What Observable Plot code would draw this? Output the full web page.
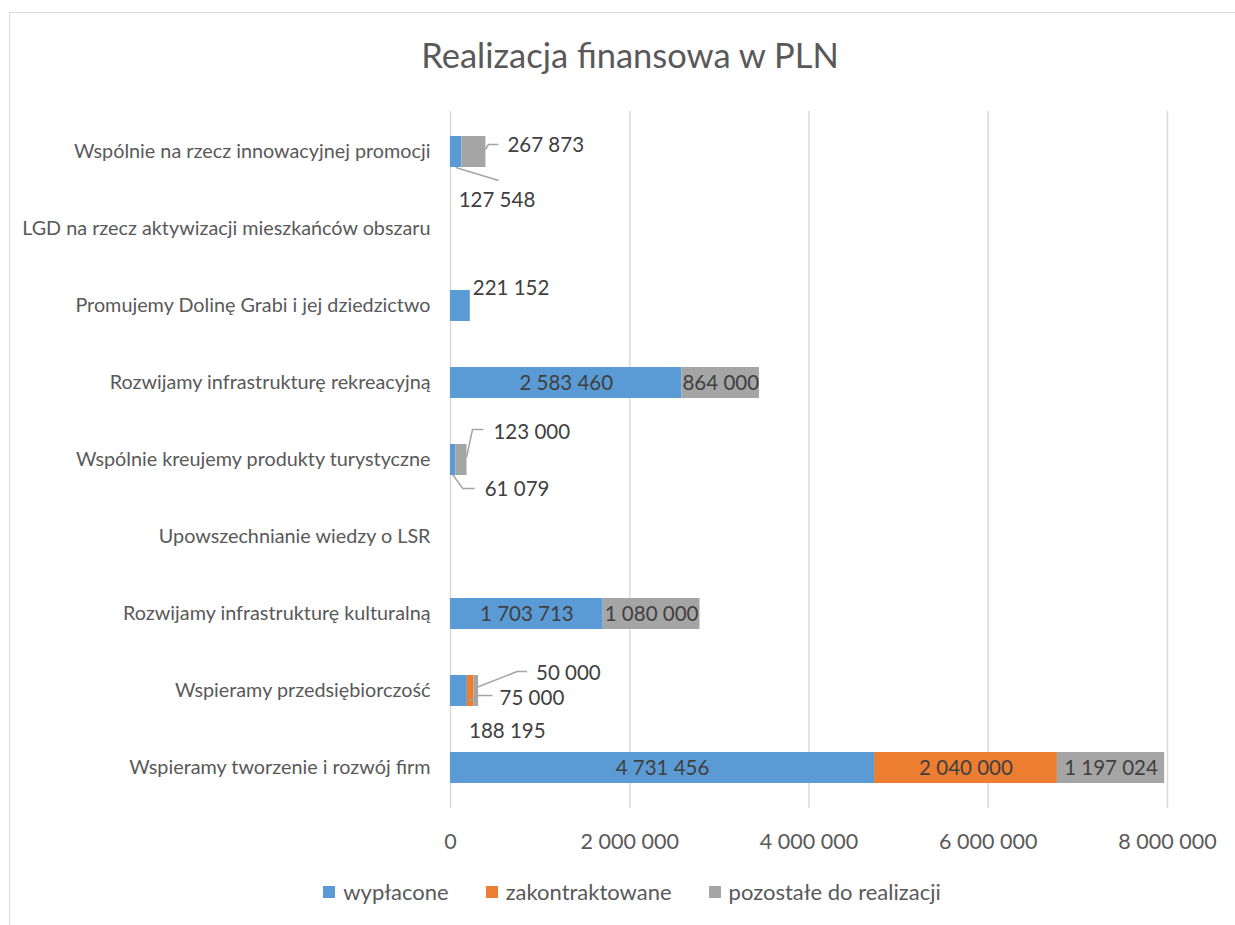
<!DOCTYPE html>
<html>
<head>
<meta charset="utf-8">
<script src="https://cdn.jsdelivr.net/npm/d3@7"></script>
<script src="https://cdn.jsdelivr.net/npm/@observablehq/plot@0.6"></script>
<style>
  body { margin: 0; background: #fff; font-family: Lato, "Open Sans", sans-serif; }
  #wrap { position: relative; width: 1235px; height: 925px; overflow: hidden; }
  #frame { position: absolute; left: 9px; top: 12px; width: 1300px; height: 1000px; border: 1.5px solid #D9D9D9; box-sizing: border-box; }
  #title { position: absolute; left: 0; width: 1260px; top: 34px; text-align: center; font-size: 34.5px; color: #595959; font-weight: 400; }
  #chart { position: absolute; left: 0; top: 0; }
  #legend { position: absolute; left: 0; width: 1264px; top: 878px; display: flex; justify-content: center; gap: 37px; font-size: 22px; color: #595959; }
  #legend span.item { display: flex; align-items: center; }
  #legend span.sw { display: inline-block; width: 12px; height: 12px; margin-right: 8px; }
</style>
</head>
<body>
<div id="wrap">
  <div id="frame"></div>
  <div id="chart"></div>
  <div id="title">Realizacja finansowa w PLN</div>
  <div id="legend"></div>
</div>
<script>
const categories = [
  "Wspólnie na rzecz innowacyjnej promocji",
  "LGD na rzecz aktywizacji mieszkańców obszaru",
  "Promujemy Dolinę Grabi i jej dziedzictwo",
  "Rozwijamy infrastrukturę rekreacyjną",
  "Wspólnie kreujemy produkty turystyczne",
  "Upowszechnianie wiedzy o LSR",
  "Rozwijamy infrastrukturę kulturalną",
  "Wspieramy przedsiębiorczość",
  "Wspieramy tworzenie i rozwój firm"
];
const seriesNames = ["wypłacone", "zakontraktowane", "pozostałe do realizacji"];
const wyplacone = [127548, 0, 221152, 2583460, 61079, 0, 1703713, 188195, 4731456];
const zakontraktowane = [0, 0, 0, 0, 0, 0, 0, 75000, 2040000];
const pozostale = [267873, 0, 0, 864000, 123000, 0, 1080000, 50000, 1197024];
const xTicks = [0, 2000000, 4000000, 6000000, 8000000];
const colors = ["#5B9BD5", "#ED7D31", "#A5A5A5"];

const fmt = v => d3.format(",")(v).replace(/,/g, " ");

// long table
const values = [wyplacone, zakontraktowane, pozostale];
const rows = [];
categories.forEach((c, i) => {
  let acc = 0;
  values.forEach((arr, s) => {
    const v = arr[i];
    rows.push({cat: c, series: seriesNames[s], value: v, x1: acc, x2: acc + v, ci: i, si: s});
    acc += v;
  });
});

// label placement (layout): outside labels with pixel offsets and leader polylines (offsets from anchor)
const outside = {
  "0-2": {anchor: "end", tx: 22, ty: -7, leader: [[0, -2], [3, -7], [13, -7]]},
  "0-0": {anchor: "mid", tx: 3, ty: 48, leader: [[0, 16], [43, 29]]},
  "2-0": {anchor: "end", tx: 3, ty: -18, leader: null},
  "4-2": {anchor: "end", tx: 27, ty: -28, leader: [[0, -2], [6, -30], [17, -30]]},
  "4-0": {anchor: "mid", tx: 32, ty: 29, leader: [[0, 15], [10, 29], [22, 29]]},
  "7-2": {anchor: "end", tx: 58, ty: -18, leader: [[-4, -2], [39, -19], [49, -19]]},
  "7-1": {anchor: "end", tx: 26, ty: 7, leader: [[-4, 10], [5, 5], [19, 5]]},
  "7-0": {anchor: "start", tx: 19, ty: 40, leader: null}
};

const insideRows = rows.filter(d => d.value > 0 && !outside[d.ci + "-" + d.si]);

const plot = Plot.plot({
  width: 1235,
  height: 870,
  marginLeft: 450,
  marginRight: 68,
  marginTop: 111,
  marginBottom: 62,
  style: {fontFamily: "Lato, 'Open Sans', sans-serif", fontSize: "20px", color: "#595959", background: "transparent"},
  x: {domain: [0, 8000000], ticks: xTicks, tickFormat: fmt, label: null},
  y: {domain: categories, paddingInner: 0.6, paddingOuter: 0.3, label: null},
  marks: [
    Plot.ruleX(xTicks, {stroke: "#D9D9D9", strokeWidth: 1.5, strokeOpacity: 1}),
    Plot.axisX({ticks: xTicks, tickFormat: fmt, tickSize: 0, tickPadding: 25, fill: "#595959", fontSize: 21.5, label: null}),
    Plot.axisY({tickSize: 0, tickPadding: 20, fill: "#595959", fontSize: 19.8, label: null}),
    Plot.barX(rows.filter(d => d.value > 0), {
      x1: "x1", x2: "x2", y: "cat",
      fill: d => colors[d.si]
    }),
    Plot.text(insideRows, {
      x: d => (d.x1 + d.x2) / 2, y: "cat", text: d => fmt(d.value),
      fill: "#404040", fontSize: 20.5
    })
  ]
});
document.getElementById("chart").appendChild(plot);

// outside labels with leader lines, positioned through the plot's own scales
const xs = plot.scale("x"), ys = plot.scale("y");
const bw = ys.bandwidth;
const svg = d3.select(plot);
const g = svg.append("g").attr("text-anchor", "start");
rows.forEach(d => {
  const o = outside[d.ci + "-" + d.si];
  if (!o || d.value <= 0) return;
  const ax = o.anchor === "end" ? xs.apply(d.x2) : o.anchor === "start" ? xs.apply(d.x1) : xs.apply((d.x1 + d.x2) / 2);
  const ay = ys.apply(d.cat) + bw / 2;
  if (o.leader) {
    g.append("path")
      .attr("d", d3.line()(o.leader.map(([px, py]) => [ax + px, ay + py])))
      .attr("fill", "none").attr("stroke", "#A5A5A5").attr("stroke-width", 1.5);
  }
  g.append("text")
    .attr("x", ax + o.tx).attr("y", ay + o.ty)
    .attr("dy", "0.35em")
    .attr("text-anchor", "start")
    .attr("fill", "#404040").attr("font-size", 20.5)
    .text(fmt(d.value));
});

// legend
const leg = d3.select("#legend");
seriesNames.forEach((s, i) => {
  const it = leg.append("span").attr("class", "item");
  it.append("span").attr("class", "sw").style("background", colors[i]);
  it.append("span").text(s);
});
</script>
</body>
</html>
